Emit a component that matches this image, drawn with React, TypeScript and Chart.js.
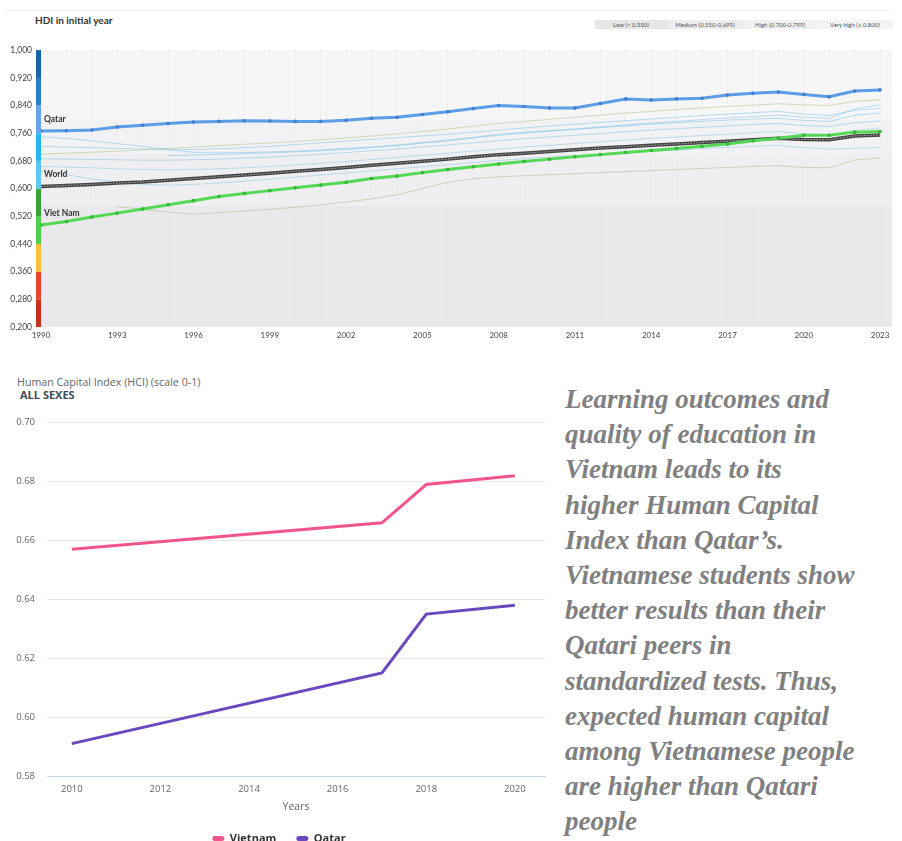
import React, { useEffect, useRef } from 'react';
import { Chart, registerables } from 'chart.js';

Chart.register(...registerables);

// ---------------- HDI chart data ----------------
const HDI_YEARS = [1990, 1991, 1992, 1993, 1994, 1995, 1996, 1997, 1998, 1999, 2000, 2001, 2002, 2003, 2004, 2005, 2006, 2007, 2008, 2009, 2010, 2011, 2012, 2013, 2014, 2015, 2016, 2017, 2018, 2019, 2020, 2021, 2022, 2023];
const HDI_TICK_YEARS = [1990, 1993, 1996, 1999, 2002, 2005, 2008, 2011, 2014, 2017, 2020, 2023];
const HDI_Y_TICKS = [0.2, 0.28, 0.36, 0.44, 0.52, 0.6, 0.68, 0.76, 0.84, 0.92, 1.0];
const HDI_BAND_LIMITS = [0.2, 0.55, 0.7, 0.8, 1.0];
const HDI_LEGEND = ['Low (< 0.550)', 'Medium (0.550-0.699)', 'High (0.700-0.799)', 'Very high (≥ 0.800)'];

const QATAR_HDI = [0.766, 0.767, 0.769, 0.778, 0.783, 0.788, 0.792, 0.794, 0.796, 0.795, 0.794, 0.794, 0.797, 0.803, 0.806, 0.814, 0.822, 0.831, 0.840, 0.837, 0.833, 0.833, 0.846, 0.859, 0.856, 0.859, 0.861, 0.870, 0.875, 0.879, 0.872, 0.865, 0.882, 0.885];
const WORLD_HDI = [0.606, 0.609, 0.612, 0.616, 0.619, 0.624, 0.629, 0.634, 0.639, 0.644, 0.650, 0.655, 0.661, 0.667, 0.673, 0.679, 0.685, 0.692, 0.698, 0.702, 0.707, 0.712, 0.717, 0.721, 0.725, 0.729, 0.733, 0.737, 0.741, 0.745, 0.742, 0.741, 0.752, 0.755];
const VIETNAM_HDI = [0.495, 0.505, 0.518, 0.529, 0.541, 0.553, 0.565, 0.577, 0.586, 0.594, 0.602, 0.610, 0.618, 0.629, 0.636, 0.646, 0.655, 0.663, 0.671, 0.678, 0.685, 0.692, 0.698, 0.704, 0.710, 0.716, 0.722, 0.729, 0.738, 0.745, 0.754, 0.754, 0.763, 0.765];

const PEER_1 = [0.749, 0.745, 0.738, 0.730, 0.722, 0.712, 0.705, 0.703, 0.704, 0.706, 0.708, 0.712, 0.716, 0.720, 0.726, 0.733, 0.740, 0.748, 0.757, 0.762, 0.767, 0.772, 0.778, 0.784, 0.789, 0.794, 0.799, 0.804, 0.808, 0.812, 0.806, 0.803, 0.830, 0.842];
const PEER_2 = [0.700, 0.702, 0.705, 0.708, 0.712, 0.716, 0.720, 0.724, 0.728, 0.732, 0.736, 0.741, 0.746, 0.752, 0.758, 0.765, 0.772, 0.780, 0.788, 0.794, 0.800, 0.806, 0.812, 0.818, 0.823, 0.828, 0.833, 0.837, 0.841, 0.845, 0.842, 0.840, 0.852, 0.856];
const PEER_3 = [0.686, 0.685, 0.684, 0.683, 0.682, 0.682, 0.683, 0.685, 0.688, 0.691, 0.695, 0.699, 0.704, 0.709, 0.714, 0.720, 0.726, 0.732, 0.738, 0.744, 0.749, 0.754, 0.759, 0.764, 0.769, 0.773, 0.777, 0.781, 0.785, 0.788, 0.782, 0.779, 0.790, 0.795];
const PEER_4 = [null, null, null, null, null, 0.695, 0.697, 0.699, 0.701, 0.703, 0.706, 0.709, 0.713, 0.718, 0.724, 0.731, 0.738, 0.746, 0.754, 0.760, 0.766, 0.771, 0.776, 0.781, 0.786, 0.790, 0.794, 0.798, 0.801, 0.803, 0.797, 0.794, 0.812, 0.818];
const PEER_5 = [0.650, 0.640, 0.628, 0.618, 0.612, 0.610, 0.612, 0.616, 0.621, 0.627, 0.633, 0.639, 0.645, 0.651, 0.657, 0.663, 0.669, 0.675, 0.681, 0.686, 0.691, 0.695, 0.699, 0.703, 0.707, 0.711, 0.715, 0.719, 0.722, 0.725, 0.718, 0.714, 0.716, 0.719];
const PEER_6 = [null, null, null, 0.548, 0.540, 0.532, 0.526, 0.530, 0.535, 0.540, 0.546, 0.553, 0.561, 0.570, 0.582, 0.600, 0.618, 0.628, 0.634, 0.637, 0.640, 0.643, 0.646, 0.649, 0.652, 0.655, 0.658, 0.661, 0.664, 0.666, 0.661, 0.660, 0.682, 0.689];
const PEER_7 = [0.722, 0.720, 0.718, 0.716, 0.714, 0.713, 0.713, 0.715, 0.718, 0.722, 0.727, 0.732, 0.737, 0.742, 0.747, 0.752, 0.757, 0.763, 0.769, 0.775, 0.781, 0.786, 0.791, 0.796, 0.801, 0.806, 0.811, 0.815, 0.819, 0.823, 0.815, 0.811, 0.826, 0.832];
const PEER_8 = [0.664, 0.662, 0.660, 0.657, 0.655, 0.654, 0.655, 0.657, 0.660, 0.664, 0.668, 0.673, 0.678, 0.684, 0.690, 0.696, 0.702, 0.708, 0.714, 0.720, 0.725, 0.730, 0.735, 0.740, 0.745, 0.749, 0.753, 0.757, 0.761, 0.765, 0.758, 0.754, 0.768, 0.775];

// ---------------- HCI chart data ----------------
const HCI_YEARS = [2010, 2017, 2018, 2020];
const HCI_X_TICKS = [2010, 2012, 2014, 2016, 2018, 2020];
const HCI_Y_TICKS = [0.58, 0.6, 0.62, 0.64, 0.66, 0.68, 0.7];
const HCI_VIETNAM = [0.657, 0.666, 0.679, 0.682];
const HCI_QATAR = [0.591, 0.615, 0.635, 0.638];

const TEXT_LINES = [
  'Learning outcomes and',
  'quality of education in',
  'Vietnam leads to its',
  'higher Human Capital',
  'Index than Qatar’s.',
  'Vietnamese students show',
  'better results than their',
  'Qatari peers in',
  'standardized tests. Thus,',
  'expected human capital',
  'among Vietnamese people',
  'are higher than Qatari',
  'people',
];

// ---------------- styles ----------------
const BAND_COLORS = ['#e9e9eb', '#efeff1', '#f2f2f4', '#f6f6f7'];
const SCALE_BAR_COLORS = ['#c9301f', '#e8452f', '#f6c03a', '#4dd04d', '#3aa33a', '#5ac8f0', '#29b5ef', '#6aa6e6', '#2a7fc4', '#1565a8'];
const LEGEND_BOX_COLORS = ['#e6e6e6', '#ececec', '#f0f0f0', '#f4f4f4'];
const TOP_FONT = 'Lato, "Open Sans", sans-serif';
const HCI_FONT = '"Open Sans", sans-serif';

const pts = (xs: number[], ys: (number | null)[]) => xs.map((x, i) => ({ x, y: ys[i] }));

const hdiDecor = {
  id: 'hdiDecor',
  beforeDraw(chart: any) {
    const { ctx, chartArea, scales } = chart;
    const y = scales.y;
    ctx.save();
    for (let i = 0; i < HDI_BAND_LIMITS.length - 1; i++) {
      const y0 = y.getPixelForValue(HDI_BAND_LIMITS[i]);
      const y1 = y.getPixelForValue(HDI_BAND_LIMITS[i + 1]);
      ctx.fillStyle = BAND_COLORS[i];
      ctx.fillRect(chartArea.left, y1, chartArea.right - chartArea.left, y0 - y1);
    }
    for (let i = 0; i < HDI_Y_TICKS.length - 1; i++) {
      const y0 = y.getPixelForValue(HDI_Y_TICKS[i]);
      const y1 = y.getPixelForValue(HDI_Y_TICKS[i + 1]);
      ctx.fillStyle = SCALE_BAR_COLORS[i];
      ctx.fillRect(chartArea.left - 5, y1, 5, y0 - y1);
    }
    ctx.restore();
  },
  afterDatasetsDraw(chart: any) {
    const { ctx, chartArea } = chart;
    ctx.save();
    ctx.font = `bold 8.5px ${TOP_FONT}`;
    ctx.fillStyle = '#333';
    ctx.textBaseline = 'middle';
    ctx.textAlign = 'left';
    chart.data.datasets.forEach((ds: any, i: number) => {
      if (!ds.tag) return;
      const meta = chart.getDatasetMeta(i);
      const p = meta.data[0];
      if (!p) return;
      ctx.fillText(ds.tag, chartArea.left + 3, p.y - 12);
    });
    ctx.restore();
  },
};

function peer(data: (number | null)[], color: string) {
  return {
    label: '',
    data: pts(HDI_YEARS, data),
    borderColor: color,
    borderWidth: 1,
    pointRadius: 0,
    order: 10,
    spanGaps: false,
  };
}

function hdiConfig(): any {
  return {
    type: 'line',
    data: {
      datasets: [
        {
          label: 'Viet Nam', tag: 'Viet Nam',
          data: pts(HDI_YEARS, VIETNAM_HDI),
          borderColor: '#55d855', borderWidth: 3,
          pointRadius: 1.8, pointBackgroundColor: '#36b536', pointBorderWidth: 0,
          order: 1,
        },
        {
          label: 'Qatar', tag: 'Qatar',
          data: pts(HDI_YEARS, QATAR_HDI),
          borderColor: '#5d9de6', borderWidth: 3,
          pointRadius: 1.8, pointBackgroundColor: '#3f7fd0', pointBorderWidth: 0,
          order: 2,
        },
        {
          label: 'World dots',
          data: pts(HDI_YEARS, WORLD_HDI),
          borderColor: 'rgba(255,255,255,0.55)', borderWidth: 1, borderDash: [1.5, 1.5],
          pointRadius: 0, order: 3,
        },
        {
          label: 'World', tag: 'World',
          data: pts(HDI_YEARS, WORLD_HDI),
          borderColor: '#444444', borderWidth: 3.5,
          pointRadius: 0, order: 4,
        },
        peer(PEER_1, 'rgba(120,190,230,0.5)'),
        peer(PEER_2, 'rgba(185,200,140,0.6)'),
        peer(PEER_3, 'rgba(120,190,230,0.5)'),
        peer(PEER_4, 'rgba(120,195,235,0.55)'),
        peer(PEER_5, 'rgba(120,190,230,0.45)'),
        peer(PEER_6, 'rgba(170,190,130,0.55)'),
        peer(PEER_7, 'rgba(120,190,230,0.5)'),
        peer(PEER_8, 'rgba(120,190,230,0.45)'),
      ],
    },
    options: {
      animation: false,
      responsive: true,
      maintainAspectRatio: false,
      layout: { padding: { top: 8, right: 10, left: 0, bottom: 0 } },
      plugins: { legend: { display: false }, tooltip: { enabled: false } },
      scales: {
        x: {
          type: 'linear',
          min: 1990,
          max: 2023.47,
          afterBuildTicks: (s: any) => { s.ticks = HDI_YEARS.map((v) => ({ value: v })); },
          afterFit: (s: any) => { s.height = 19; },
          ticks: {
            autoSkip: false, maxRotation: 0, padding: 4,
            color: '#444', font: { family: TOP_FONT, size: 8 },
            callback: (v: number) => (HDI_TICK_YEARS.includes(v) ? String(v) : ''),
          },
          grid: { color: '#e4e4e8', drawTicks: false },
          border: { display: false, dash: [1.5, 2.5] },
        },
        y: {
          type: 'linear',
          min: 0.2,
          max: 1.0,
          afterBuildTicks: (s: any) => { s.ticks = HDI_Y_TICKS.map((v) => ({ value: v })); },
          afterFit: (s: any) => { s.width = 41; },
          ticks: {
            padding: 9, color: '#444', font: { family: TOP_FONT, size: 8.5 },
            callback: (v: number) => v.toFixed(3).replace('.', ','),
          },
          grid: { display: false, drawTicks: false },
          border: { display: false },
        },
      },
    },
    plugins: [hdiDecor],
  };
}

function hciConfig(): any {
  return {
    type: 'line',
    data: {
      datasets: [
        {
          label: 'Vietnam',
          data: pts(HCI_YEARS, HCI_VIETNAM),
          borderColor: '#f2558e', backgroundColor: '#f2558e', borderWidth: 3,
          pointRadius: 0,
        },
        {
          label: 'Qatar',
          data: pts(HCI_YEARS, HCI_QATAR),
          borderColor: '#6a48bd', backgroundColor: '#6a48bd', borderWidth: 3,
          pointRadius: 0,
        },
      ],
    },
    options: {
      animation: false,
      responsive: true,
      maintainAspectRatio: false,
      layout: { padding: { top: 13, right: 15, left: 13, bottom: 0 } },
      plugins: {
        tooltip: { enabled: false },
        legend: {
          position: 'bottom',
          labels: {
            boxWidth: 12, boxHeight: 5, useBorderRadius: true, borderRadius: 2.5,
            padding: 20, color: '#333',
            font: { family: HCI_FONT, size: 11, weight: 'bold' },
            generateLabels: (chart: any) => chart.data.datasets.map((ds: any, i: number) => ({
              text: ds.label, fillStyle: ds.borderColor, strokeStyle: ds.borderColor,
              lineWidth: 0, hidden: false, datasetIndex: i, borderRadius: 2.5, fontColor: '#333',
            })),
          },
        },
      },
      scales: {
        x: {
          type: 'linear',
          min: 2009.44,
          max: 2020.68,
          afterBuildTicks: (s: any) => { s.ticks = HCI_X_TICKS.map((v) => ({ value: v })); },
          afterFit: (s: any) => { s.height = 37; },
          ticks: {
            autoSkip: false, maxRotation: 0, padding: 8,
            color: '#666', font: { family: HCI_FONT, size: 9.5 },
            callback: (v: number) => String(v),
          },
          title: {
            display: true, text: 'Years', color: '#666',
            font: { family: HCI_FONT, size: 10.5 }, padding: { top: 0, bottom: 0 },
          },
          grid: { display: false, drawTicks: false },
          border: { display: true, color: '#ccd6eb', width: 1 },
        },
        y: {
          type: 'linear',
          min: 0.58,
          max: 0.7,
          afterBuildTicks: (s: any) => { s.ticks = HCI_Y_TICKS.map((v) => ({ value: v })); },
          afterFit: (s: any) => { s.width = 34; },
          ticks: {
            padding: 12, color: '#666', font: { family: HCI_FONT, size: 9.5 },
            callback: (v: number) => v.toFixed(2),
          },
          grid: { color: '#e6e6e6', drawTicks: false },
          border: { display: false },
        },
      },
    },
  };
}

export default function App() {
  const hdiRef = useRef<HTMLCanvasElement>(null);
  const hciRef = useRef<HTMLCanvasElement>(null);

  useEffect(() => {
    const c1 = new Chart(hdiRef.current as HTMLCanvasElement, hdiConfig());
    const c2 = new Chart(hciRef.current as HTMLCanvasElement, hciConfig());
    return () => {
      c1.destroy();
      c2.destroy();
    };
  }, []);

  const legendLefts = [595, 667, 743, 817];
  const legendWidths = [72, 76, 74, 76];

  return (
    <div style={{ position: 'absolute', left: 0, top: 0, width: 902, height: 841, overflow: 'hidden', background: '#fff' }}>
      <div style={{ position: 'absolute', left: 5, right: 10, top: 10, height: 1, background: '#f0f0f0' }} />
      <div style={{ position: 'absolute', left: 35, top: 13, font: `bold 10px ${TOP_FONT}`, color: '#333', lineHeight: '14px' }}>
        HDI in initial year
      </div>
      {HDI_LEGEND.map((t, i) => (
        <div
          key={t}
          style={{
            position: 'absolute', left: legendLefts[i], top: 20, width: legendWidths[i], height: 9,
            background: LEGEND_BOX_COLORS[i], display: 'flex', alignItems: 'center', justifyContent: 'center',
            font: `6px ${TOP_FONT}`, color: '#555', whiteSpace: 'nowrap',
          }}
        >
          {t}
        </div>
      ))}
      <div style={{ position: 'absolute', left: 0, top: 36, width: 902, height: 310 }}>
        <canvas ref={hdiRef} />
      </div>

      <div style={{ position: 'absolute', left: 17, top: 375, font: `10.7px ${HCI_FONT}`, color: '#666', lineHeight: '14px', whiteSpace: 'nowrap' }}>
        Human Capital Index (HCI) (scale 0-1)
      </div>
      <div style={{ position: 'absolute', left: 20, top: 388, font: `bold 11px ${HCI_FONT}`, color: '#3d4a5c', lineHeight: '14px', whiteSpace: 'nowrap' }}>
        ALL SEXES
      </div>
      <div style={{ position: 'absolute', left: 0, top: 405, width: 560, height: 449 }}>
        <canvas ref={hciRef} />
      </div>

      <div style={{ position: 'absolute', left: 565, top: 382, font: `italic bold 27px "Liberation Serif", serif`, color: '#808080', lineHeight: '35.2px' }}>
        {TEXT_LINES.map((l) => (
          <div key={l} style={{ whiteSpace: 'nowrap' }}>{l}</div>
        ))}
      </div>
    </div>
  );
}
